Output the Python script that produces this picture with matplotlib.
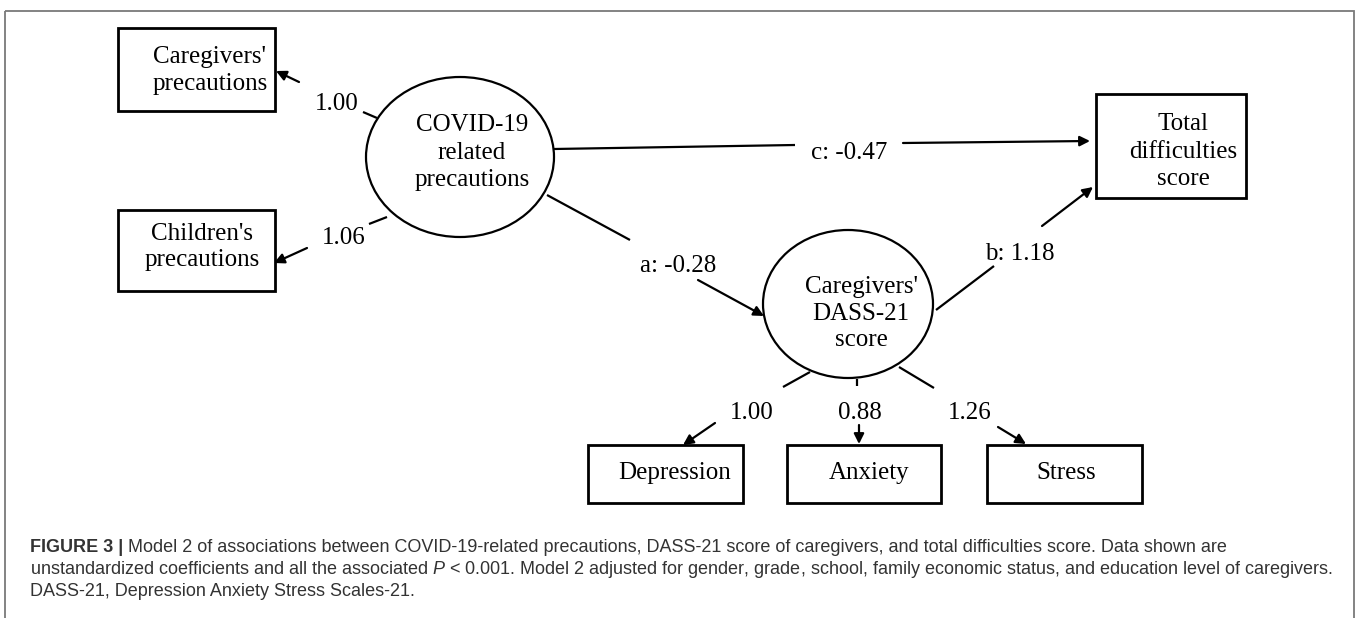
import matplotlib
matplotlib.use("Agg")
import matplotlib.pyplot as plt
from matplotlib.patches import Rectangle, Ellipse

# ---------------- data ----------------
indicator_labels = ["Caregivers'\nprecautions", "Children's\nprecautions"]
outcome_label = "Total\ndifficulties\nscore"
dass_items = ["Depression", "Anxiety", "Stress"]
latent_labels = ["COVID-19\nrelated\nprecautions", "Caregivers'\nDASS-21\nscore"]
covid_loadings = [1.00, 1.06]
dass_loadings = [1.00, 0.88, 1.26]
path_names = ["a", "b", "c"]
path_coefs = [-0.28, 1.18, -0.47]
caption_bold = "FIGURE 3 |"
caption_lines = [
    " Model 2 of associations between COVID-19-related precautions, DASS-21 score of caregivers, and total difficulties score. Data shown are",
    "unstandardized coefficients and all the associated $P$ < 0.001. Model 2 adjusted for gender, grade, school, family economic status, and education level of caregivers.",
    "DASS-21, Depression Anxiety Stress Scales-21.",
]

# ---------------- setup ----------------
plt.rcParams['mathtext.fontset'] = 'custom'
plt.rcParams['mathtext.rm'] = 'Liberation Sans'
plt.rcParams['mathtext.it'] = 'Liberation Sans:italic'

W, H = 1358, 618
fig = plt.figure(figsize=(W / 100, H / 100), dpi=100)
ax = fig.add_axes([0, 0, 1, 1])
ax.set_xlim(0, W)
ax.set_ylim(H, 0)
ax.axis('off')

SERIF = 'Liberation Serif'
FS = 18
LW = 1.6

# outer frame
ax.add_patch(Rectangle((5, 11), 1349, 640, fill=False, ec='#7a7a7a', lw=1.3))


def box(x0, y0, x1, y1):
    ax.add_patch(Rectangle((x0, y0), x1 - x0, y1 - y0, fill=False, ec='black', lw=2.0))


def lines_text(label, cx, baselines):
    for ln, yb in zip(label.split("\n"), baselines):
        ax.text(cx, yb, ln, ha='center', va='baseline', fontsize=FS, family=SERIF, color='black')


def seg(p0, p1):
    ax.plot([p0[0], p1[0]], [p0[1], p1[1]], color='black', lw=LW, solid_capstyle='butt')


def arrow(p0, p1):
    ax.annotate('', xy=p1, xytext=p0,
                arrowprops=dict(arrowstyle='-|>', lw=LW, color='black', mutation_scale=15,
                                shrinkA=0, shrinkB=0))


def label(txt, cx, cy):
    ax.text(cx, cy + 7, txt, ha='center', va='baseline', fontsize=FS, family=SERIF, color='black')


# ---------------- nodes ----------------
box(118, 28, 275, 111)
lines_text(indicator_labels[0], 210, [63, 90])
box(118, 210, 275, 291)
lines_text(indicator_labels[1], 202, [240, 266])
box(1096, 94, 1246, 198)
lines_text(outcome_label, 1183, [130, 158, 185])

item_boxes = [(588, 743), (787, 941), (987, 1142)]
item_cx = [675, 869, 1066]
for name, (x0, x1), cx in zip(dass_items, item_boxes, item_cx):
    box(x0, 445, x1, 503)
    lines_text(name, cx, [479])

ax.add_patch(Ellipse((460, 157), 188, 160, fill=False, ec='black', lw=LW))
lines_text(latent_labels[0], 472, [131, 159, 186])
ax.add_patch(Ellipse((848, 304), 170, 148, fill=False, ec='black', lw=LW))
lines_text(latent_labels[1], 861, [293, 320, 346])

# ---------------- COVID loadings ----------------
seg((363, 112), (377, 118))
label(f"{covid_loadings[0]:.2f}", 337, 103)
arrow((299, 82), (276, 71))

seg((387, 217), (369, 224))
label(f"{covid_loadings[1]:.2f}", 344, 237)
arrow((307, 248), (274, 263))

# ---------------- paths ----------------
# c
seg((554, 149), (795, 145))
label(f"{path_names[2]}: {path_coefs[2]:.2f}", 849, 152)
arrow((903, 143), (1090, 141))
# a
seg((547, 195), (630, 240))
label(f"{path_names[0]}: {path_coefs[0]:.2f}", 678, 265)
arrow((698, 280), (764, 316))
# b
seg((936, 310), (994, 266))
label(f"{path_names[1]}: {path_coefs[1]:.2f}", 1020, 253)
arrow((1042, 226), (1093, 187))

# ---------------- DASS loadings ----------------
short_segs = [((810, 372), (783, 387)), ((857, 379), (857, 386)), ((899, 367), (934, 388))]
lab_cx = [752, 860, 970]
arrows = [((715, 423), (683, 445)), ((859, 425), (859, 444)), ((998, 427), (1026, 444))]
for s, v, cx, a in zip(short_segs, dass_loadings, lab_cx, arrows):
    seg(*s)
    label(f"{v:.2f}", cx, 412)
    arrow(*a)

# ---------------- caption ----------------
renderer = fig.canvas.get_renderer()
CAP_COLOR = '#333333'
SANS = 'Liberation Sans'
probe = ax.text(0, 0, caption_lines[1], fontsize=10, family=SANS)
wprobe = probe.get_window_extent(renderer).width
probe.remove()
cfs = 10 * 1300 / wprobe

x0 = 30
cap_y = [552, 574, 596]
tb = ax.text(x0, cap_y[0], caption_bold, fontsize=cfs, family=SANS, weight='bold',
             color=CAP_COLOR, va='baseline', ha='left')
xb = tb.get_window_extent(renderer).x1
ax.text(xb, cap_y[0], caption_lines[0], fontsize=cfs, family=SANS, color=CAP_COLOR,
        va='baseline', ha='left')
for ln, yb in zip(caption_lines[1:], cap_y[1:]):
    ax.text(x0, yb, ln, fontsize=cfs, family=SANS, color=CAP_COLOR, va='baseline', ha='left')

fig.savefig('out.png', dpi=100)
